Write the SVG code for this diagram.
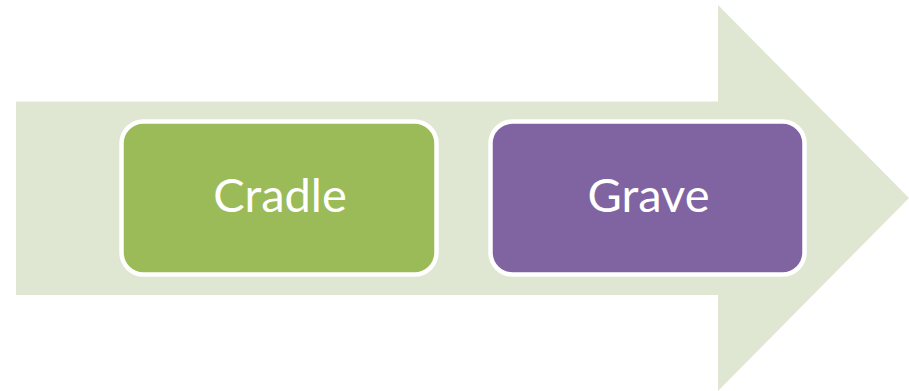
<svg xmlns="http://www.w3.org/2000/svg" width="909" height="391" viewBox="0 0 909 391">
  <style>
    .box { stroke: #FFFFFF; stroke-width: 4.5; }
    .label { font-family: "Lato", "Open Sans", "Liberation Sans", sans-serif; font-size: 47px; fill: #FFFFFF; text-anchor: middle; }
  </style>
  <rect width="909" height="391" fill="#FFFFFF"/>
  <!-- background block arrow -->
  <g id="arrow">
    <polygon points="16,101.5 718,101.5 718,5 909,198 718,391 718,295 16,295" fill="#DFE7D2"/>
  </g>
  <g id="connectors"></g>
  <g id="cradle">
    <rect class="box" x="121.5" y="121.5" width="315" height="153" rx="22" fill="#9BBB59"/>
    <text class="label" x="280" y="212">Cradle</text>
  </g>
  <g id="grave">
    <rect class="box" x="490.5" y="121.5" width="314" height="153" rx="22" fill="#8064A2"/>
    <text class="label" x="648.5" y="212">Grave</text>
  </g>
</svg>
